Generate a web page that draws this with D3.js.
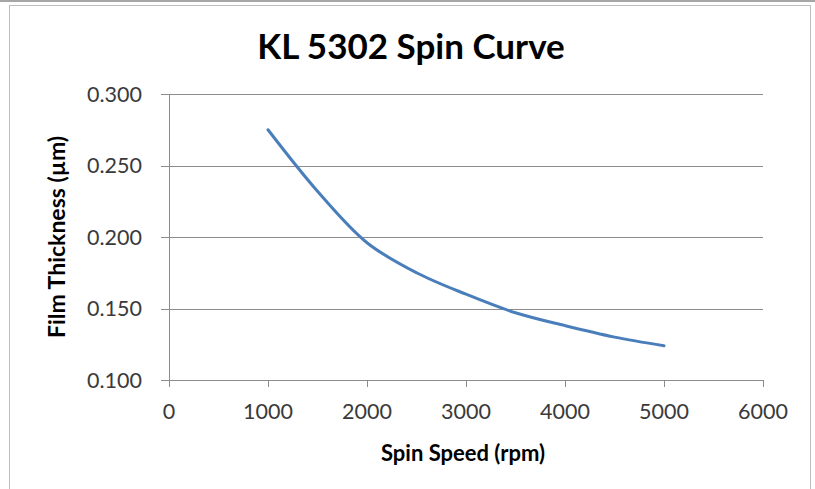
<!DOCTYPE html>
<html>
<head>
<meta charset="utf-8">
<script src="https://cdn.jsdelivr.net/npm/d3@7"></script>
<style>
  html, body { margin: 0; padding: 0; background: #fff; }
  text { font-family: Lato, "Open Sans", sans-serif; }
</style>
</head>
<body>
<svg id="chart" width="815" height="489"></svg>
<script>
// spin curve readings (rpm vs thickness in um)
var speeds = [1000, 1500, 2000, 2500, 3000, 3500, 4000, 4500, 5000];
var thickness = [0.275, 0.232, 0.196, 0.175, 0.160, 0.147, 0.138, 0.130, 0.124];
var xTicks = [0, 1000, 2000, 3000, 4000, 5000, 6000];
var yTicks = [0.100, 0.150, 0.200, 0.250, 0.300];

var svg = d3.select('#chart');

// chart frame
svg.append('rect')
    .attr('x', 0).attr('y', 0)
    .attr('width', 815).attr('height', 2)
    .attr('fill', '#a6a6a6');
svg.append('rect')
    .attr('x', 9.5).attr('y', 5.5)
    .attr('width', 801).attr('height', 500)
    .attr('fill', '#fff')
    .attr('stroke', '#bdbdbd');

var x = d3.scaleLinear().domain([0, 6000]).range([169, 763]);
var y = d3.scaleLinear().domain([0.1, 0.3]).range([380, 94]);

var axisColor = '#8c8c8c';
var labelColor = '#3a3a3a';

// horizontal gridlines with left tick stubs
svg.append('g').selectAll('line')
    .data(yTicks)
    .join('line')
    .attr('x1', 161)
    .attr('x2', 763)
    .attr('y1', function(d) { return Math.round(y(d)) + 0.5; })
    .attr('y2', function(d) { return Math.round(y(d)) + 0.5; })
    .attr('stroke', axisColor);

// y axis line
svg.append('line')
    .attr('x1', 169.5).attr('x2', 169.5)
    .attr('y1', 94).attr('y2', 387)
    .attr('stroke', axisColor);

// x tick marks
svg.append('g').selectAll('line')
    .data(xTicks)
    .join('line')
    .attr('x1', function(d) { return Math.round(x(d)) + 0.5; })
    .attr('x2', function(d) { return Math.round(x(d)) + 0.5; })
    .attr('y1', 380)
    .attr('y2', 387)
    .attr('stroke', axisColor);

// y tick labels
svg.append('g').selectAll('text')
    .data(yTicks)
    .join('text')
    .attr('x', 142)
    .attr('y', function(d) { return y(d); })
    .attr('dy', '0.36em')
    .attr('text-anchor', 'end')
    .attr('font-size', 21.5)
    .attr('fill', labelColor)
    .text(d3.format('.3f'));

// x tick labels
svg.append('g').selectAll('text')
    .data(xTicks)
    .join('text')
    .attr('x', function(d) { return x(d); })
    .attr('y', 411)
    .attr('dy', '0.36em')
    .attr('text-anchor', 'middle')
    .attr('font-size', 21.5)
    .attr('fill', labelColor)
    .text(function(d) { return d; });

// the curve (Excel-style smoothed line)
var line = d3.line()
    .x(function(d) { return x(d[0]); })
    .y(function(d) { return y(d[1]); })
    .curve(d3.curveCatmullRom.alpha(0.5));

svg.append('path')
    .datum(d3.zip(speeds, thickness))
    .attr('d', line)
    .attr('fill', 'none')
    .attr('stroke', '#4a7ebb')
    .attr('stroke-width', 3)
    .attr('stroke-linecap', 'round');

// titles
svg.append('text')
    .attr('x', 411).attr('y', 59)
    .attr('text-anchor', 'middle')
    .attr('font-size', 35)
    .attr('font-weight', 'bold')
    .attr('fill', '#000')
    .text('KL 5302 Spin Curve');

svg.append('text')
    .attr('x', 463).attr('y', 453)
    .attr('dy', '0.36em')
    .attr('text-anchor', 'middle')
    .attr('font-size', 22)
    .attr('font-weight', 'bold')
    .attr('fill', '#000')
    .text('Spin Speed (rpm)');

svg.append('text')
    .attr('transform', 'translate(57,237) rotate(-90)')
    .attr('dy', '0.36em')
    .attr('text-anchor', 'middle')
    .attr('font-size', 23)
    .attr('font-weight', 'bold')
    .attr('fill', '#000')
    .text('Film Thickness (\u00b5m)');
</script>
</body>
</html>
